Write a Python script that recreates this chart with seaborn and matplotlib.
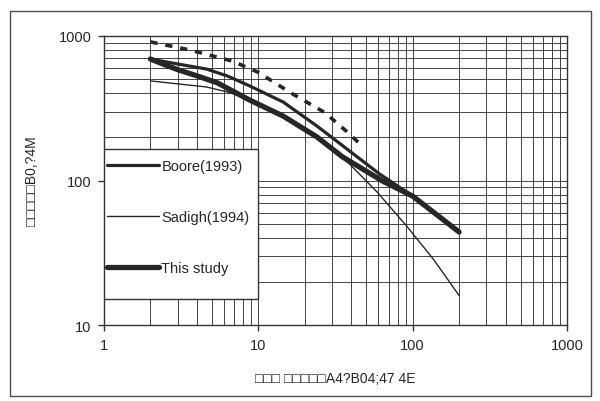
import matplotlib
matplotlib.use("Agg")
import matplotlib.pyplot as plt
import matplotlib.patches as patches
from matplotlib.ticker import LogLocator, NullFormatter
import seaborn as sns
import numpy as np

# values (log-log)
booreDist = [2, 3, 4.6, 6.3, 8.8, 14.5, 24, 39, 61, 100, 200]
booreVal = [693, 640, 591, 529, 451, 349, 238, 160, 111, 78, 44]

sadighDist = [2, 4.6, 6.3, 7.6, 14.5, 24, 39, 59, 92, 136, 200]
sadighVal = [489, 444, 410, 384, 279, 198, 130, 83, 48, 28.6, 16]

studyDist = [2, 2.5, 3, 4, 5.4, 8.8, 14.5, 24, 35, 64, 100, 200]
studyVal = [693, 630, 585, 530, 475, 360, 279, 200, 146, 99, 78, 44]

dashDist = [2, 3.6, 6.8, 10, 16.5, 27, 38, 48]
dashVal = [910, 800, 670, 560, 400, 295, 215, 170]

xTicks = [1, 10, 100, 1000]
yTicks = [10, 100, 1000]

sns.set_style("white")
plt.rcParams['font.family'] = ['Liberation Sans', 'DejaVu Sans']

fig = plt.figure(figsize=(6, 4.02), dpi=100)
ax = fig.add_axes([0.1733, 0.189, 0.7717, 0.719])

# outer frame of the scanned chart
fig.patches.append(patches.Rectangle((0.017, 0.012), 0.968, 0.958, transform=fig.transFigure,
                                     fill=False, edgecolor='0.3', lw=1))

ax.set_xscale('log')
ax.set_yscale('log')
ax.set_xlim(1, 1000)
ax.set_ylim(10, 1000)

sns.lineplot(x=dashDist, y=dashVal, ax=ax, color='0.15', lw=2.6,
             linestyle=(0, (2, 2.2)), label='_nolegend_', estimator=None)
sns.lineplot(x=sadighDist, y=sadighVal, ax=ax, color='0.15', lw=1.0, label='Sadigh(1994)', estimator=None)
sns.lineplot(x=booreDist, y=booreVal, ax=ax, color='0.15', lw=2.3, label='Boore(1993)', estimator=None)
sns.lineplot(x=studyDist, y=studyVal, ax=ax, color='0.15', lw=3.8, label='This study', estimator=None)

# legend box sits over the grid and the curves
ax.add_patch(patches.Rectangle((0.0, 0.09), 0.333, 0.519, transform=ax.transAxes,
                               facecolor='white', edgecolor='0.2', lw=1.0, zorder=4.5))

handles, labels = ax.get_legend_handles_labels()
order = [labels.index('Boore(1993)'), labels.index('Sadigh(1994)'), labels.index('This study')]
leg = ax.legend([handles[i] for i in order], [labels[i] for i in order],
                loc='upper left', bbox_to_anchor=(0.006, 0.574), fontsize=10.5,
                handlelength=3.6, handletextpad=0.15, labelspacing=2.55,
                borderpad=0, borderaxespad=0, frameon=False)
leg.set_zorder(5)

ax.xaxis.set_major_locator(LogLocator(base=10))
ax.yaxis.set_major_locator(LogLocator(base=10))
ax.xaxis.set_minor_locator(LogLocator(base=10, subs=np.arange(2, 10)))
ax.yaxis.set_minor_locator(LogLocator(base=10, subs=np.arange(2, 10)))
ax.xaxis.set_minor_formatter(NullFormatter())
ax.yaxis.set_minor_formatter(NullFormatter())
ax.set_xticks(xTicks)
ax.set_xticklabels([str(t) for t in xTicks])
ax.set_yticks(yTicks)
ax.set_yticklabels([str(t) for t in yTicks])
ax.set_xlim(1, 1000)
ax.set_ylim(10, 1000)
ax.grid(True, which='both', color='0.15', lw=0.6)
ax.set_axisbelow(True)

ax.tick_params(axis='both', which='major', direction='out', length=4, width=1,
               color='0.2', labelsize=10.5, pad=5, bottom=True, left=True)
ax.tick_params(axis='both', which='minor', length=0)
for s in ax.spines.values():
    s.set_color('0.2')
    s.set_linewidth(1.0)

ax.set_xlabel('□□□ □□□□□A4?B04;47 4E', fontsize=10, labelpad=14)
ax.set_ylabel('□□□□□B0,?4M', fontsize=10, labelpad=14)

fig.savefig('out.png', dpi=100)
